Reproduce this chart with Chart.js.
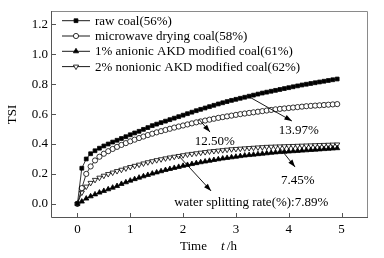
<!DOCTYPE html>
<html><head><meta charset="utf-8">
<script src="https://cdn.jsdelivr.net/npm/chart.js@4.4.0/dist/chart.umd.min.js"></script>
<style>html,body{margin:0;padding:0;background:#fff;}</style>
</head><body>
<canvas id="c" width="384" height="258" style="width:384px;height:258px;display:block"></canvas>
<script>
// ---- data ----
const times = [0,0.083,0.167,0.25,0.333,0.417,0.5,0.583,0.667,0.75,0.833,0.917,1,1.083,1.167,1.25,1.333,1.417,1.5,1.583,1.667,1.75,1.833,1.917,2,2.083,2.167,2.25,2.333,2.417,2.5,2.583,2.667,2.75,2.833,2.917,3,3.083,3.167,3.25,3.333,3.417,3.5,3.583,3.667,3.75,3.833,3.917,4,4.083,4.167,4.25,4.333,4.417,4.5,4.583,4.667,4.75,4.833,4.917];
const rawCoal = [0,0.238,0.300,0.335,0.355,0.372,0.387,0.400,0.413,0.425,0.437,0.449,0.462,0.474,0.485,0.498,0.510,0.523,0.533,0.543,0.553,0.563,0.573,0.583,0.593,0.603,0.613,0.623,0.632,0.641,0.650,0.659,0.668,0.676,0.684,0.692,0.699,0.706,0.713,0.720,0.727,0.734,0.741,0.747,0.753,0.759,0.765,0.771,0.777,0.783,0.789,0.795,0.800,0.805,0.810,0.815,0.820,0.825,0.830,0.835];
const microwave = [0,0.105,0.200,0.250,0.290,0.315,0.335,0.352,0.367,0.381,0.394,0.406,0.418,0.429,0.440,0.450,0.460,0.469,0.478,0.486,0.494,0.502,0.510,0.517,0.524,0.531,0.538,0.545,0.551,0.557,0.563,0.569,0.575,0.580,0.585,0.590,0.595,0.600,0.604,0.608,0.612,0.616,0.620,0.624,0.628,0.632,0.635,0.638,0.641,0.644,0.647,0.650,0.653,0.655,0.657,0.659,0.661,0.663,0.665,0.667];
const anionic = [0,0.015,0.035,0.050,0.063,0.075,0.086,0.097,0.108,0.119,0.133,0.144,0.155,0.165,0.175,0.184,0.193,0.202,0.210,0.218,0.226,0.233,0.240,0.247,0.254,0.260,0.266,0.272,0.278,0.283,0.288,0.293,0.298,0.303,0.307,0.311,0.315,0.319,0.323,0.326,0.329,0.332,0.335,0.338,0.341,0.344,0.346,0.348,0.350,0.352,0.354,0.356,0.358,0.360,0.362,0.364,0.366,0.368,0.370,0.372];
const nonionic = [0,0.075,0.115,0.140,0.160,0.175,0.188,0.199,0.209,0.219,0.228,0.237,0.246,0.254,0.262,0.270,0.278,0.285,0.292,0.298,0.304,0.310,0.315,0.320,0.325,0.330,0.334,0.338,0.342,0.346,0.350,0.353,0.356,0.359,0.362,0.365,0.367,0.369,0.371,0.373,0.375,0.377,0.379,0.381,0.382,0.383,0.384,0.385,0.386,0.387,0.388,0.389,0.390,0.391,0.392,0.393,0.394,0.395,0.396,0.397];
const seriesLabels = ["raw coal(56%)","microwave drying coal(58%)","1% anionic AKD modified coal(61%)","2% nonionic AKD modified coal(62%)"];
const xTicks = [0,1,2,3,4,5];
const yTicks = [0,0.2,0.4,0.6,0.8,1.0,1.2];
const annotTexts = ["13.97%","12.50%","7.45%","water splitting rate(%):7.89%"];
// arrow start / end and label location, in data units (t, TSI)
const annotArrows = [
  {from:[3.27,0.712], to:[4.06,0.554], label:[4.19,0.487]},
  {from:[2.30,0.565], to:[2.51,0.480], label:[2.60,0.413]},
  {from:[3.85,0.365], to:[4.12,0.246], label:[4.17,0.153]},
  {from:[1.92,0.320], to:[2.53,0.086], label:[3.29,0.005]}
];

const FONT = "'Liberation Serif','Times New Roman',serif";
Chart.defaults.font.family = FONT;
Chart.defaults.font.size = 13;
Chart.defaults.color = '#000';

const styles = [
  {pointStyle:'rect', bg:'#000', rot:0, r:2.7},
  {pointStyle:'circle', bg:'#fff', rot:0, r:2.6},
  {pointStyle:'triangle', bg:'#000', rot:0, r:3.0},
  {pointStyle:'triangle', bg:'#fff', rot:180, r:3.0}
];
const seriesVals = [rawCoal, microwave, anionic, nonionic];
const datasets = seriesVals.map((vals,i)=>({
  label: seriesLabels[i],
  data: times.map((t,k)=>({x:t,y:vals[k]})),
  borderColor:'#000', borderWidth:0.8,
  pointStyle: styles[i].pointStyle, pointRotation: styles[i].rot,
  pointRadius: styles[i].r, pointBorderWidth:0.8,
  pointBackgroundColor: styles[i].bg, pointBorderColor:'#000',
  tension:0, fill:false
}));

function arrow(ctx,x1,y1,x2,y2){
  ctx.beginPath(); ctx.moveTo(x1,y1); ctx.lineTo(x2,y2); ctx.stroke();
  const a=Math.atan2(y2-y1,x2-x1), L=7.5, W=2.6;
  ctx.beginPath();
  ctx.moveTo(x2,y2);
  ctx.lineTo(x2-L*Math.cos(a)+W*Math.sin(a), y2-L*Math.sin(a)-W*Math.cos(a));
  ctx.lineTo(x2-L*Math.cos(a)-W*Math.sin(a), y2-L*Math.sin(a)+W*Math.cos(a));
  ctx.closePath(); ctx.fill();
}

const custom = {
  id:'custom',
  afterDraw(chart){
    const ctx=chart.ctx, a=chart.chartArea, xs=chart.scales.x, ys=chart.scales.y;
    ctx.save();
    // frame
    ctx.lineWidth=1;
    ctx.strokeStyle='#8a8a8a';
    ctx.beginPath(); ctx.moveTo(a.left+0.5,a.top+0.5); ctx.lineTo(a.right-0.5,a.top+0.5); ctx.lineTo(a.right-0.5,a.bottom-0.5); ctx.stroke();
    ctx.strokeStyle='#555';
    ctx.beginPath(); ctx.moveTo(a.left+0.5,a.top); ctx.lineTo(a.left+0.5,a.bottom-0.5); ctx.lineTo(a.right,a.bottom-0.5); ctx.stroke();
    // inward ticks
    ctx.beginPath();
    xTicks.forEach(v=>{const x=Math.round(xs.getPixelForValue(v))+0.5; ctx.moveTo(x,a.bottom); ctx.lineTo(x,a.bottom-5);});
    yTicks.forEach(v=>{const y=Math.round(ys.getPixelForValue(v))+0.5; ctx.moveTo(a.left,y); ctx.lineTo(a.left+5,y);});
    ctx.stroke();
    // legend
    ctx.font='13px '+FONT; ctx.fillStyle='#000'; ctx.textBaseline='middle'; ctx.textAlign='left';
    chart.data.datasets.forEach((ds,i)=>{
      const y=a.top+9.7+i*15.3;
      ctx.strokeStyle='#000'; ctx.lineWidth=0.9;
      ctx.beginPath(); ctx.moveTo(a.left+11,y); ctx.lineTo(a.left+39,y); ctx.stroke();
      ctx.fillStyle=ds.pointBackgroundColor; ctx.lineWidth=0.8;
      Chart.helpers.drawPoint(ctx,{pointStyle:ds.pointStyle,rotation:ds.pointRotation,radius:ds.pointRadius,borderWidth:0.8},a.left+25,y);
      ctx.fillStyle='#000';
      ctx.fillText(ds.label,a.left+44,y+0.5);
    });
    // annotations
    ctx.strokeStyle='#000'; ctx.fillStyle='#000'; ctx.lineWidth=0.9;
    annotArrows.forEach((an,i)=>{
      arrow(ctx,xs.getPixelForValue(an.from[0]),ys.getPixelForValue(an.from[1]),xs.getPixelForValue(an.to[0]),ys.getPixelForValue(an.to[1]));
      ctx.textAlign='center';
      ctx.fillText(annotTexts[i],xs.getPixelForValue(an.label[0]),ys.getPixelForValue(an.label[1]));
    });
    // axis titles
    ctx.save();
    ctx.translate(13,(a.top+a.bottom)/2); ctx.rotate(-Math.PI/2);
    ctx.textAlign='center'; ctx.fillText('TSI',0,0);
    ctx.restore();
    ctx.textAlign='left';
    ctx.fillText('Time',180,247);
    ctx.font='italic 13px '+FONT;
    ctx.fillText('t',221,247);
    const tw=ctx.measureText('t').width;
    ctx.font='13px '+FONT;
    ctx.fillText(' /h',221+tw-1,247);
    ctx.restore();
  }
};

new Chart(document.getElementById('c'),{
  type:'line',
  data:{datasets},
  options:{
    responsive:false, animation:false, devicePixelRatio:1,
    layout:{padding:{left:0,top:11,right:16,bottom:0}},
    plugins:{legend:{display:false},tooltip:{enabled:false}},
    scales:{
      x:{type:'linear',min:-0.5,max:5.5,
        afterFit(s){s.height=40;},
        afterBuildTicks(s){s.ticks=xTicks.map(v=>({value:v}));},
        grid:{display:false,drawTicks:false}, border:{display:false},
        ticks:{padding:4,maxRotation:0,callback:v=>String(v),color:'#000'}},
      y:{type:'linear',min:-0.095,max:1.29,
        afterFit(s){s.width=51;},
        afterBuildTicks(s){s.ticks=yTicks.map(v=>({value:v}));},
        grid:{display:false,drawTicks:false}, border:{display:false},
        ticks:{padding:3,callback:v=>Number(v).toFixed(1),color:'#000'}}
    }
  },
  plugins:[custom]
});
</script>
</body></html>
